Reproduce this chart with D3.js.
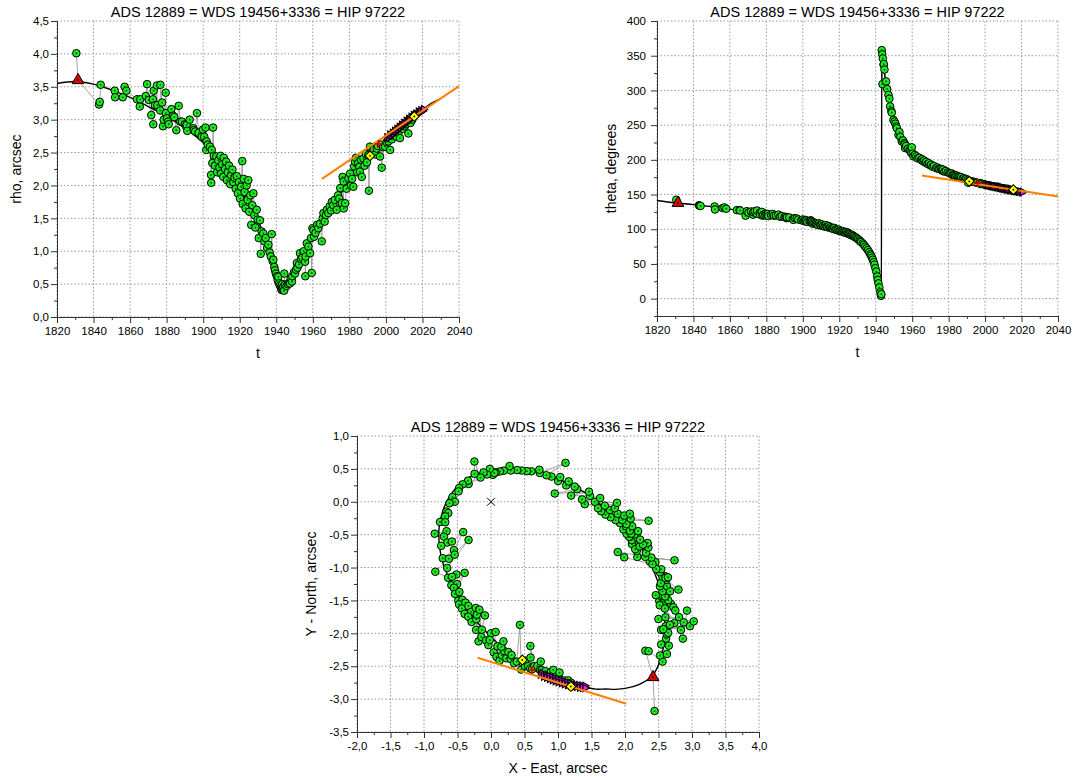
<!DOCTYPE html>
<html>
<head>
<meta charset="utf-8">
<script src="https://cdn.jsdelivr.net/npm/d3@7"></script>
<style>
  body { margin: 0; background: #fff; }
  text { font-family: Arial, "Liberation Sans", sans-serif; fill: #000; }
  .grid { stroke: #9a9a9a; stroke-width: 1; stroke-dasharray: 1.5 2; }
</style>
</head>
<body>
<script>
const title = "ADS 12889 = WDS 19456+3336 = HIP 97222"

// ephemeris of the orbit: [year, rho (arcsec), theta (deg)]
const orbit = [
    [1820, 3.55, 141.4], [1830, 3.58, 138.0], [1840, 3.54, 135.5], [1850, 3.45, 132.5],
    [1860, 3.34, 129.0], [1870, 3.20, 125.8], [1880, 3.05, 122.0], [1890, 2.87, 118.0],
    [1900, 2.65, 113.5], [1905, 2.51, 110.5], [1910, 2.34, 107.0], [1915, 2.15, 103.5],
    [1920, 1.94, 99.0], [1925, 1.71, 93.5], [1930, 1.46, 86.0], [1933, 1.28, 80.0],
    [1935, 1.15, 75.0], [1937, 0.99, 68.0], [1938, 0.91, 63.0], [1939, 0.82, 57.0],
    [1940, 0.74, 49.0], [1941, 0.65, 38.0], [1942, 0.56, 23.0], [1942.6, 0.51, 11.0],
    [1943.1, 0.49, 1.0], [1943.3, 0.48, 357.0], [1943.7, 0.47, 348.0], [1944.2, 0.47, 337.0],
    [1945, 0.49, 321.0], [1946, 0.52, 304.0], [1947, 0.57, 290.0], [1948, 0.62, 278.0],
    [1949, 0.68, 267.0], [1950, 0.74, 258.0], [1952, 0.86, 244.0], [1955, 1.02, 229.0],
    [1958, 1.17, 218.0], [1960, 1.26, 212.0], [1965, 1.48, 200.0], [1970, 1.68, 192.0],
    [1975, 1.87, 185.5], [1980, 2.05, 180.0], [1985, 2.23, 175.5], [1990, 2.40, 171.5],
    [1995, 2.56, 168.0], [2000, 2.70, 164.5], [2005, 2.83, 161.5], [2010, 2.95, 158.5],
    [2015, 3.06, 156.0], [2020, 3.15, 153.5], [2025, 3.25, 151.2], [2030, 3.32, 149.0],
    [2035, 3.40, 147.0], [2040, 3.48, 144.5]
]

// micrometer / visual measures: [year, rho, theta]
const visual = [
    [1830.6, 4.01, 142.5], [1843.0, 3.23, 134.5], [1843.4, 3.27, 134.0], [1843.9, 3.53, 133.5],
    [1851.6, 3.44, 132.8], [1851.8, 3.34, 128.5], [1856.0, 3.34, 130.5], [1857.0, 3.50, 131.4],
    [1858.0, 3.44, 129.5], [1863.8, 3.31, 127.5], [1865.3, 3.20, 127.5], [1865.6, 3.31, 127.0],
    [1868.6, 3.36, 119.5], [1869.3, 3.54, 126.0], [1870.2, 3.30, 124.0], [1871.6, 3.07, 125.5],
    [1872.5, 3.31, 122.0], [1872.7, 2.93, 121.0], [1872.9, 3.44, 124.5], [1873.6, 3.22, 126.0],
    [1874.7, 3.52, 122.5], [1874.9, 3.22, 127.0], [1876.5, 3.14, 124.0], [1876.6, 3.53, 121.0],
    [1877.5, 3.26, 125.0], [1878.0, 2.90, 119.5], [1878.4, 3.00, 121.0], [1879.5, 3.41, 122.5],
    [1879.6, 3.10, 120.0], [1880.2, 3.02, 121.5], [1880.8, 2.97, 122.0], [1881.1, 2.93, 119.0],
    [1882.6, 3.16, 120.5], [1883.5, 3.06, 122.0], [1884.2, 3.04, 119.5], [1885.3, 2.84, 120.0],
    [1886.6, 3.21, 121.0], [1887.5, 2.97, 118.0], [1888.4, 2.97, 119.0], [1890.0, 2.93, 117.5],
    [1890.6, 2.90, 118.0], [1891.0, 2.92, 116.0], [1891.3, 2.83, 117.0], [1892.6, 3.00, 117.0],
    [1894.6, 2.87, 114.5], [1894.8, 2.84, 113.5], [1895.6, 2.82, 116.0], [1896.6, 3.10, 115.5],
    [1897.5, 2.80, 114.0], [1899.2, 2.74, 113.0], [1899.9, 2.85, 114.0], [1900.6, 2.74, 112.0],
    [1901.3, 2.88, 113.5], [1901.7, 2.54, 111.0], [1901.9, 2.67, 112.5], [1902.5, 2.62, 110.5],
    [1903.7, 2.59, 111.5], [1904.3, 2.16, 113.0], [1904.4, 2.04, 112.0], [1904.7, 2.54, 109.5],
    [1905.0, 2.34, 111.0], [1905.4, 2.88, 108.0], [1905.8, 2.45, 110.0], [1906.5, 2.30, 109.0],
    [1907.2, 2.44, 108.5], [1907.6, 2.20, 107.0], [1908.3, 2.38, 106.0], [1908.9, 2.27, 108.5],
    [1909.5, 2.45, 106.5], [1909.8, 2.18, 105.5], [1910.4, 2.32, 107.0], [1911.0, 2.13, 104.5],
    [1911.3, 2.42, 105.0], [1912.0, 2.25, 104.0], [1912.6, 2.36, 106.0], [1913.0, 2.08, 103.5],
    [1913.5, 2.20, 103.0], [1914.2, 2.30, 104.5], [1914.8, 2.02, 102.0], [1915.3, 2.15, 103.0],
    [1916.0, 2.24, 101.5], [1916.5, 2.05, 100.5], [1917.2, 2.12, 102.0], [1917.8, 1.95, 99.5],
    [1918.4, 2.14, 100.0], [1919.0, 1.88, 98.5], [1919.6, 2.05, 99.5], [1920.2, 1.80, 97.5],
    [1920.7, 1.98, 98.0], [1921.4, 2.37, 97.0], [1921.6, 1.72, 96.5], [1922.2, 2.10, 97.0],
    [1922.7, 1.90, 95.5], [1923.2, 1.65, 95.0], [1923.8, 2.00, 96.0], [1924.3, 1.78, 94.0],
    [1924.7, 2.08, 95.0], [1925.2, 1.60, 93.5], [1925.8, 1.85, 93.0], [1926.3, 1.40, 91.5],
    [1926.9, 1.70, 92.0], [1927.5, 1.88, 90.5], [1928.0, 1.55, 90.0], [1928.6, 1.36, 88.5],
    [1929.3, 1.63, 88.0], [1929.8, 1.48, 86.5], [1930.4, 1.20, 85.5], [1931.1, 1.47, 84.0],
    [1931.5, 0.96, 82.5], [1932.0, 1.30, 81.5], [1932.9, 1.27, 79.5], [1933.5, 1.15, 77.5],
    [1934.2, 1.20, 75.0], [1935.0, 1.05, 72.5], [1935.7, 1.10, 70.0], [1936.4, 0.98, 67.0],
    [1937.0, 0.92, 64.0], [1937.5, 1.26, 62.0], [1938.0, 0.85, 59.0], [1938.4, 0.87, 56.0],
    [1938.9, 0.76, 52.5], [1939.3, 0.71, 49.0], [1939.8, 0.66, 44.0], [1940.3, 0.62, 39.0],
    [1940.8, 0.56, 32.0], [1941.1, 0.61, 27.0], [1941.5, 0.51, 22.0], [1942.0, 0.48, 16.0],
    [1942.5, 0.45, 9.0], [1942.9, 0.41, 4.0], [1943.1, 0.44, 6.5], [1943.3, 0.50, 358.0],
    [1943.6, 0.42, 352.0], [1943.7, 0.43, 309.0], [1943.9, 0.46, 346.0], [1944.3, 0.40, 337.0],
    [1944.4, 0.66, 338.0], [1944.8, 0.49, 330.0], [1945.7, 0.47, 313.0], [1946.3, 0.50, 302.0],
    [1947.0, 0.52, 293.5], [1947.5, 0.51, 288.0], [1947.9, 0.58, 277.0], [1948.6, 0.54, 270.0],
    [1948.8, 0.62, 268.0], [1949.7, 0.68, 257.5], [1950.3, 0.66, 255.0], [1950.8, 0.72, 252.0],
    [1951.3, 0.82, 248.0], [1951.6, 0.75, 245.5], [1952.5, 0.80, 236.0], [1953.0, 0.97, 240.0],
    [1953.5, 0.88, 233.0], [1954.3, 0.90, 226.5], [1955.0, 1.00, 228.0], [1955.8, 0.84, 224.0],
    [1955.9, 0.62, 222.0], [1956.1, 0.92, 217.0], [1956.7, 1.12, 220.0], [1957.6, 1.07, 216.0],
    [1958.5, 0.97, 214.0], [1959.0, 1.20, 213.0], [1959.4, 0.67, 210.0], [1959.8, 1.35, 218.0],
    [1960.3, 1.32, 209.0], [1960.7, 1.22, 205.0], [1961.5, 1.28, 207.0], [1962.3, 1.40, 205.0],
    [1963.0, 1.35, 202.0], [1963.9, 1.42, 203.0], [1964.9, 1.15, 200.0], [1965.4, 1.50, 201.0],
    [1965.8, 1.58, 198.0], [1966.5, 1.45, 199.0], [1967.2, 1.55, 196.0], [1967.7, 1.63, 197.0],
    [1968.5, 1.58, 194.0], [1969.2, 1.68, 195.0], [1970.0, 1.62, 192.0], [1970.4, 1.75, 193.0],
    [1971.2, 1.70, 190.0], [1972.0, 1.78, 191.0], [1973.1, 1.63, 188.0], [1973.8, 1.85, 189.0],
    [1974.5, 1.80, 187.0], [1975.0, 1.96, 186.5], [1975.9, 1.73, 187.0], [1976.3, 2.13, 185.0],
    [1976.8, 2.06, 184.0], [1976.9, 1.65, 186.0], [1977.7, 1.73, 183.0], [1978.5, 1.95, 184.0],
    [1979.5, 2.11, 182.0], [1980.4, 2.18, 181.0], [1980.9, 2.00, 180.0], [1981.5, 2.10, 180.5],
    [1982.2, 1.98, 178.0], [1982.6, 2.29, 179.0], [1983.1, 2.36, 178.0], [1983.6, 2.42, 177.0],
    [1984.3, 2.20, 177.5], [1984.9, 2.34, 176.0], [1985.5, 2.28, 175.0], [1985.8, 2.21, 176.0],
    [1986.4, 2.39, 174.5], [1986.8, 2.13, 175.0], [1987.7, 2.41, 173.0], [1988.3, 2.30, 173.5],
    [1989.0, 2.48, 172.0], [1989.6, 2.35, 172.5], [1990.4, 2.46, 171.0], [1990.7, 1.92, 167.0],
    [1991.3, 2.59, 170.0], [1992.5, 2.50, 169.0], [1993.4, 2.55, 168.5], [1994.2, 2.47, 168.0],
    [1995.0, 2.56, 167.5], [1995.6, 2.60, 167.0], [1996.8, 2.44, 166.0], [1997.3, 2.62, 166.5],
    [1997.7, 2.27, 165.0], [1998.5, 2.58, 165.5], [1999.5, 2.59, 164.5], [2000.4, 2.66, 164.0],
    [2001.4, 2.67, 163.5], [2002.3, 2.54, 163.0], [2003.2, 2.70, 162.5], [2004.5, 2.76, 162.0],
    [2005.9, 2.74, 161.0], [2006.8, 2.80, 161.5], [2007.7, 2.72, 160.0], [2009.0, 2.86, 159.5],
    [2010.2, 2.90, 159.0], [2011.0, 2.93, 158.0], [2012.3, 2.79, 158.5], [2013.5, 2.95, 157.0],
    [2014.5, 3.00, 156.5]
]

const firstMeasure = [[1831.5, 3.60, 137.8]]
const satellite = [[1991.3, 2.45, 169.0], [2015.5, 3.05, 157.0]]
const otherMeasure = [[1996.0, 2.63, 166.5]]
const speckle = [
    [2000.6, 2.73, 164.3], [2001.4, 2.72, 163.7], [2002.2, 2.77, 163.5], [2002.9, 2.76, 162.8],
    [2003.6, 2.80, 162.7], [2004.2, 2.79, 161.9], [2004.8, 2.83, 162.0], [2005.5, 2.82, 161.2],
    [2006.1, 2.86, 161.3], [2006.7, 2.85, 160.5], [2007.4, 2.89, 160.6], [2008.0, 2.88, 159.8],
    [2008.6, 2.92, 159.9], [2009.3, 2.91, 159.0], [2009.9, 2.95, 159.1], [2010.5, 2.94, 158.3],
    [2011.2, 2.98, 158.4], [2011.8, 2.97, 157.6], [2012.5, 3.01, 157.7], [2013.1, 3.00, 156.9],
    [2013.8, 3.04, 157.0], [2014.4, 3.03, 156.2], [2015.1, 3.07, 156.3], [2015.8, 3.06, 155.5],
    [2016.4, 3.09, 155.6], [2017.1, 3.08, 154.8], [2017.8, 3.12, 154.9], [2018.5, 3.11, 154.1],
    [2019.2, 3.14, 154.2], [2020.0, 3.13, 153.4], [2020.6, 3.16, 153.6]
]

// linear motion fit
const linearRho = [[1965, 2.10], [2040, 3.51]]
const linearTheta = [[1965.3, 177.5], [2040, 147.0]]
const linearXY = [[-0.20, -2.37], [2.02, -3.07]]

const yearTicks = d3.range(1820, 2041, 20)
const yearMinor = d3.range(1830, 2040, 20)
const rhoTicks = d3.range(0, 4.51, 0.5)
const rhoMinor = d3.range(0.25, 4.5, 0.5)
const thetaTicks = d3.range(0, 401, 50)
const thetaMinor = d3.range(-25, 400, 50)
const xyXTicks = d3.range(-2, 4.01, 0.5)
const xyXMinor = d3.range(-1.75, 4, 0.5)
const xyYTicks = d3.range(-3.5, 1.01, 0.5)
const xyYMinor = d3.range(-3.25, 1, 0.5)

const locale = d3.formatLocale({decimal: ",", thousands: " ", grouping: [3], currency: ["", ""], minus: "-"})
const f1 = locale.format(".1f")
const fInt = locale.format("d")

const allObs = [...visual, ...firstMeasure, ...satellite, ...speckle, ...otherMeasure]
    .sort((a, b) => a[0] - b[0])

const rad = Math.PI / 180
const toXY = d => [d[1] * Math.sin(d[2] * rad), d[1] * Math.cos(d[2] * rad)]

const svg = d3.select("body").append("svg")
    .attr("width", 1075)
    .attr("height", 778)

function makePanel(cfg) {
    const g = svg.append("g")
    const x = d3.scaleLinear().domain(cfg.xDomain).range([cfg.left, cfg.right])
    const y = d3.scaleLinear().domain(cfg.yDomain).range([cfg.bottom, cfg.top])

    g.append("g").selectAll("line").data(cfg.xTicks).join("line")
        .attr("class", "grid")
        .attr("x1", d => x(d)).attr("x2", d => x(d))
        .attr("y1", cfg.top).attr("y2", cfg.bottom)
    g.append("g").selectAll("line").data(cfg.yTicks).join("line")
        .attr("class", "grid")
        .attr("x1", cfg.left).attr("x2", cfg.right)
        .attr("y1", d => y(d)).attr("y2", d => y(d))

    const styleAxis = sel => sel
        .attr("font-family", "Arial, 'Liberation Sans', sans-serif")
        .attr("font-size", 11.5)
        .attr("color", "#333")

    g.append("g").attr("transform", `translate(0,${cfg.bottom})`)
        .call(d3.axisBottom(x).tickValues(cfg.xMinor).tickSize(3).tickSizeOuter(0).tickFormat(""))
        .call(styleAxis)
    g.append("g").attr("transform", `translate(0,${cfg.bottom})`)
        .call(d3.axisBottom(x).tickValues(cfg.xTicks).tickSize(6).tickPadding(4).tickSizeOuter(0).tickFormat(cfg.xFormat))
        .call(styleAxis)
    g.append("g").attr("transform", `translate(${cfg.left},0)`)
        .call(d3.axisLeft(y).tickValues(cfg.yMinor).tickSize(3).tickSizeOuter(0).tickFormat(""))
        .call(styleAxis)
    g.append("g").attr("transform", `translate(${cfg.left},0)`)
        .call(d3.axisLeft(y).tickValues(cfg.yTicks).tickSize(6).tickPadding(cfg.yPad).tickSizeOuter(0).tickFormat(cfg.yFormat))
        .call(styleAxis)

    g.append("text")
        .attr("x", (cfg.left + cfg.right) / 2)
        .attr("y", cfg.top - 4)
        .attr("text-anchor", "middle")
        .attr("font-size", 14.5)
        .text(title)
    g.append("text")
        .attr("x", (cfg.left + cfg.right) / 2)
        .attr("y", cfg.bottom + 41)
        .attr("text-anchor", "middle")
        .attr("font-size", 14)
        .text(cfg.xLabel)
    g.append("text")
        .attr("transform", `translate(${cfg.left - cfg.yLabelGap},${(cfg.top + cfg.bottom) / 2}) rotate(-90)`)
        .attr("text-anchor", "middle")
        .attr("font-size", 14)
        .text(cfg.yLabel)

    return {g, x, y}
}

function drawMarks(p, pos, orbitPath, fitPath) {
    const px = d => pos(d)[0], py = d => pos(d)[1]

    // observations joined in time order
    p.g.append("path").datum(allObs)
        .attr("d", d3.line().x(px).y(py))
        .attr("fill", "none")
        .attr("stroke", "#999")
        .attr("stroke-width", 0.9)

    p.g.append("path")
        .attr("d", orbitPath)
        .attr("fill", "none")
        .attr("stroke", "#000")
        .attr("stroke-width", 1.4)

    const green = p.g.append("g").selectAll("g").data(visual).join("g")
        .attr("transform", d => `translate(${px(d)},${py(d)})`)
    green.append("circle").attr("r", 3.8)
        .attr("fill", "#1ee81e").attr("stroke", "#000").attr("stroke-width", 1)
    green.append("circle").attr("r", 0.9).attr("fill", "#052")

    p.g.append("g").selectAll("path").data(speckle).join("path")
        .attr("transform", d => `translate(${px(d)},${py(d)}) rotate(90)`)
        .attr("d", d3.symbol(d3.symbolTriangle, 24))
        .attr("fill", "#ff1aff").attr("stroke", "#000").attr("stroke-width", 1.1)

    p.g.append("path")
        .attr("d", fitPath)
        .attr("stroke", "#ff8000").attr("stroke-width", 2).attr("fill", "none")

    p.g.append("g").selectAll("path").data(otherMeasure).join("path")
        .attr("transform", d => `translate(${px(d)},${py(d)})`)
        .attr("d", "M-4,0H4M0,-4V4")
        .attr("stroke", "#e00000").attr("stroke-width", 1.6)

    const tri = p.g.append("g").selectAll("g").data(firstMeasure).join("g")
        .attr("transform", d => `translate(${px(d)},${py(d)})`)
    tri.append("path").attr("d", d3.symbol(d3.symbolTriangle, 60))
        .attr("fill", "#e00000").attr("stroke", "#000").attr("stroke-width", 1)
    tri.append("circle").attr("r", 0.9).attr("fill", "#000")

    const dia = p.g.append("g").selectAll("g").data(satellite).join("g")
        .attr("transform", d => `translate(${px(d)},${py(d)})`)
    dia.append("path").attr("d", d3.symbol(d3.symbolSquare, 48)).attr("transform", "rotate(45)")
        .attr("fill", "#ffff00").attr("stroke", "#000").attr("stroke-width", 1)
    dia.append("circle").attr("r", 0.9).attr("fill", "#000")
}

// rho vs t
const p1 = makePanel({
    left: 57, right: 459, top: 21, bottom: 317,
    xDomain: [1820, 2040], yDomain: [0, 4.5],
    xTicks: yearTicks, xMinor: yearMinor, yTicks: rhoTicks, yMinor: rhoMinor,
    xFormat: fInt, yFormat: f1, yPad: 2,
    xLabel: "t", yLabel: "rho, arcsec", yLabelGap: 36
})
drawMarks(p1, d => [p1.x(d[0]), p1.y(d[1])],
    d3.line().curve(d3.curveMonotoneX).x(d => p1.x(d[0])).y(d => p1.y(d[1]))(orbit.filter(d => d[0] <= 2030)),
    d3.line().x(d => p1.x(d[0])).y(d => p1.y(d[1]))(linearRho))

// theta vs t
const p2 = makePanel({
    left: 657, right: 1058, top: 21, bottom: 316,
    xDomain: [1820, 2040], yDomain: [-25, 400],
    xTicks: yearTicks, xMinor: yearMinor, yTicks: thetaTicks, yMinor: thetaMinor,
    xFormat: fInt, yFormat: fInt, yPad: 5,
    xLabel: "t", yLabel: "theta, degrees", yLabelGap: 41
})
drawMarks(p2, d => [p2.x(d[0]), p2.y(d[2])],
    d3.line().curve(d3.curveMonotoneX).x(d => p2.x(d[0])).y(d => p2.y(d[2]))(orbit.filter(d => d[0] <= 2021)),
    d3.line().x(d => p2.x(d[0])).y(d => p2.y(d[1]))(linearTheta))

// apparent orbit
const p3 = makePanel({
    left: 357, right: 759, top: 436, bottom: 732,
    xDomain: [-2, 4], yDomain: [-3.5, 1],
    xTicks: xyXTicks, xMinor: xyXMinor, yTicks: xyYTicks, yMinor: xyYMinor,
    xFormat: f1, yFormat: f1, yPad: 2,
    xLabel: "X - East, arcsec", yLabel: "Y - North, arcsec", yLabelGap: 41
})
p3.g.append("path")
    .attr("transform", `translate(${p3.x(0)},${p3.y(0)})`)
    .attr("d", "M-4,-4L4,4M-4,4L4,-4")
    .attr("stroke", "#000").attr("stroke-width", 1)
drawMarks(p3, d => { const c = toXY(d); return [p3.x(c[0]), p3.y(c[1])] },
    d3.line().curve(d3.curveCatmullRomClosed)
        .x(d => p3.x(toXY(d)[0])).y(d => p3.y(toXY(d)[1]))(orbit),
    d3.line().x(d => p3.x(d[0])).y(d => p3.y(d[1]))(linearXY))
</script>
</body>
</html>
